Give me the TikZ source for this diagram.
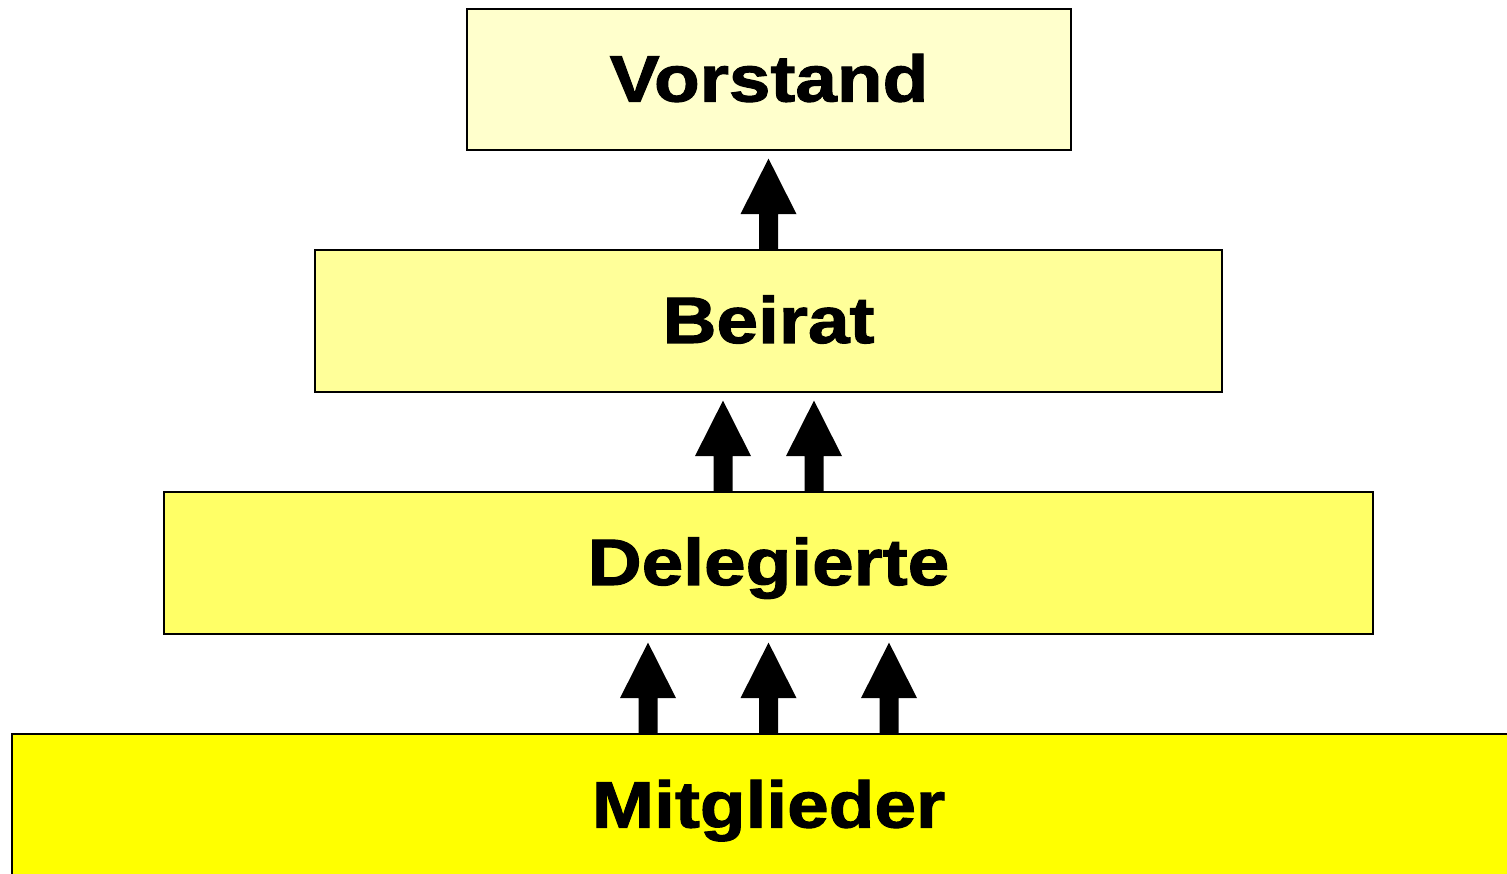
\documentclass[tikz,border=0pt]{standalone}
\usepackage{fontspec}
\newfontfamily\blk[FakeBold=1.6,FakeStretch=1.14]{Liberation Sans Bold}
\usetikzlibrary{calc}
\newcommand\blockarr[2]{%
  \fill ($(#1)+(-9.5,0)$) -- ($(#1|-#2)+(-9.5,-63.5)$) -- ($(#1|-#2)+(-28,-63.5)$) -- ($(#1|-#2)+(0,-8)$)
     -- ($(#1|-#2)+(28,-63.5)$) -- ($(#1|-#2)+(9.5,-63.5)$) -- ($(#1)+(9.5,0)$) -- cycle;}
\begin{document}
\begin{tikzpicture}[x=1pt,y=1pt,
  level/.style={draw=black,line width=1.2pt,inner sep=0pt,text height=44pt,text depth=0pt,
    font=\blk\fontsize{65.6}{70}\selectfont}]
\useasboundingbox (0,0) rectangle (1507,873);
\clip (0,0) rectangle (1507,873);
\fill[white] (0,0) rectangle (1507,873);
\node[level,fill={rgb,255:red,255;green,255;blue,204},minimum width=604pt,minimum height=141pt] (vorstand) at (769,793.5) {Vorstand};
\node[level,fill={rgb,255:red,255;green,255;blue,153},minimum width=907pt,minimum height=142pt] (beirat) at (768.5,552) {Beirat};
\node[level,fill={rgb,255:red,255;green,255;blue,102},minimum width=1209pt,minimum height=142pt] (delegierte) at (768.5,310) {Delegierte};
\node[level,fill={rgb,255:red,255;green,255;blue,0},minimum width=1513pt,minimum height=143pt] (mitglieder) at (768.5,67.5) {Mitglieder};
\coordinate (d1) at ($(delegierte.north)+(-45.5,0)$);
\coordinate (b1) at ($(beirat.south)+(-45.5,0)$);
\coordinate (d2) at ($(delegierte.north)+(45.5,0)$);
\coordinate (b2) at ($(beirat.south)+(45.5,0)$);
\coordinate (m1) at ($(mitglieder.north)+(-120.5,0)$);
\coordinate (e1) at ($(delegierte.south)+(-120.5,0)$);
\coordinate (m3) at ($(mitglieder.north)+(120.5,0)$);
\coordinate (e3) at ($(delegierte.south)+(120.5,0)$);
\blockarr{beirat.north}{vorstand.south}
\blockarr{d1}{b1}
\blockarr{d2}{b2}
\blockarr{m1}{e1}
\blockarr{mitglieder.north}{delegierte.south}
\blockarr{m3}{e3}
\end{tikzpicture}
\end{document}
